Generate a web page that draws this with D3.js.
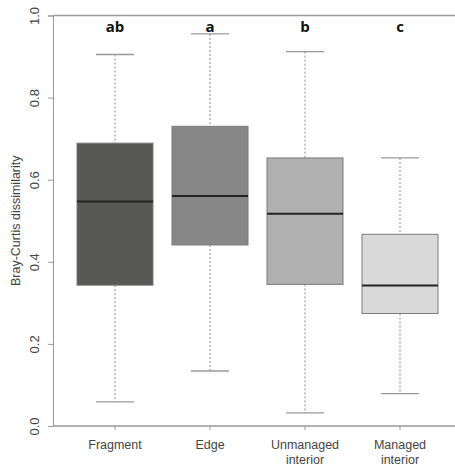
<!DOCTYPE html>
<html><head><meta charset="utf-8">
<script src="https://cdn.jsdelivr.net/npm/d3@7"></script>
<style>body{margin:0;background:#fff}</style>
</head><body>
<script>
const categories = [["Fragment"],["Edge"],["Unmanaged","interior"],["Managed","interior"]];
const groupLetters = ["ab","a","b","c"];
const whiskerLow = [0.059, 0.134, 0.032, 0.079];
const q1 = [0.343, 0.441, 0.345, 0.274];
const medians = [0.547, 0.560, 0.517, 0.342];
const q3 = [0.689, 0.730, 0.653, 0.467];
const whiskerHigh = [0.905, 0.955, 0.912, 0.653];
const fills = ["#585856","#878787","#b0b0b0","#d9d9d9"];
const yTicks = [0,0.2,0.4,0.6,0.8,1.0];

const W=455,H=466;
const svg=d3.select("body").append("svg").attr("width",W).attr("height",H);
const y=d3.scaleLinear().domain([0,1]).range([426,15.5]);
const x=d3.scalePoint().domain(d3.range(categories.length)).range([115,400]);
const axisCol="#999";
const boxW=76, capW=38;

svg.append("line").attr("x1",53).attr("x2",W).attr("y1",y(1)).attr("y2",y(1)).attr("stroke",axisCol).attr("stroke-width",1.5);
svg.append("line").attr("x1",53).attr("x2",W).attr("y1",y(0)).attr("y2",y(0)).attr("stroke",axisCol).attr("stroke-width",1.5);

const ya=svg.append("g").attr("transform","translate(53,0)").call(d3.axisLeft(y).tickValues(yTicks).tickSize(5).tickFormat(d3.format(".1f")));
ya.select(".domain").attr("stroke",axisCol);
ya.selectAll(".tick line").attr("stroke",axisCol);
ya.selectAll(".tick text").attr("fill","#444").attr("font-family","Liberation Sans, Arial").attr("font-size",13)
  .attr("x",0).attr("y",0).attr("dy",0).attr("text-anchor","middle")
  .attr("transform","translate(-14,0) rotate(-90)");

svg.append("text").attr("transform",`translate(20,${y(0.5)}) rotate(-90)`).attr("text-anchor","middle")
  .attr("font-family","Liberation Sans, Arial").attr("font-size",12.5).attr("fill","#444").text("Bray-Curtis dissimilarity");

categories.forEach((c,i)=>{
  const cx=x(i);
  svg.append("line").attr("x1",cx).attr("x2",cx).attr("y1",y(0)).attr("y2",y(0)+4).attr("stroke",axisCol);
  const t=svg.append("text").attr("text-anchor","middle").attr("font-family","Liberation Sans, Arial").attr("font-size",12.5).attr("fill","#444");
  c.forEach((s,j)=>t.append("tspan").attr("x",cx).attr("y",449+j*15).text(s));
  svg.append("text").attr("x",cx).attr("y",32).attr("text-anchor","middle").attr("font-family","Open Sans, DejaVu Sans").attr("font-weight","bold").attr("font-size",15).attr("fill","#111").text(groupLetters[i]);
});

d3.range(categories.length).forEach(i=>{
  const cx=x(i);
  const g=svg.append("g");
  g.append("line").attr("x1",cx).attr("x2",cx).attr("y1",y(whiskerHigh[i])).attr("y2",y(q3[i])).attr("stroke","#888").attr("stroke-dasharray","2,2");
  g.append("line").attr("x1",cx).attr("x2",cx).attr("y1",y(q1[i])).attr("y2",y(whiskerLow[i])).attr("stroke","#888").attr("stroke-dasharray","2,2");
  g.append("line").attr("x1",cx-capW/2).attr("x2",cx+capW/2).attr("y1",y(whiskerHigh[i])).attr("y2",y(whiskerHigh[i])).attr("stroke","#999").attr("stroke-width",1.3);
  g.append("line").attr("x1",cx-capW/2).attr("x2",cx+capW/2).attr("y1",y(whiskerLow[i])).attr("y2",y(whiskerLow[i])).attr("stroke","#999").attr("stroke-width",1.3);
  g.append("rect").attr("x",cx-boxW/2).attr("width",boxW).attr("y",y(q3[i])).attr("height",y(q1[i])-y(q3[i]))
    .attr("fill",fills[i]).attr("stroke","#7a7a7a").attr("stroke-width",1);
  g.append("line").attr("x1",cx-boxW/2).attr("x2",cx+boxW/2).attr("y1",y(medians[i])).attr("y2",y(medians[i])).attr("stroke","#222").attr("stroke-width",2);
});
</script>
</body></html>
